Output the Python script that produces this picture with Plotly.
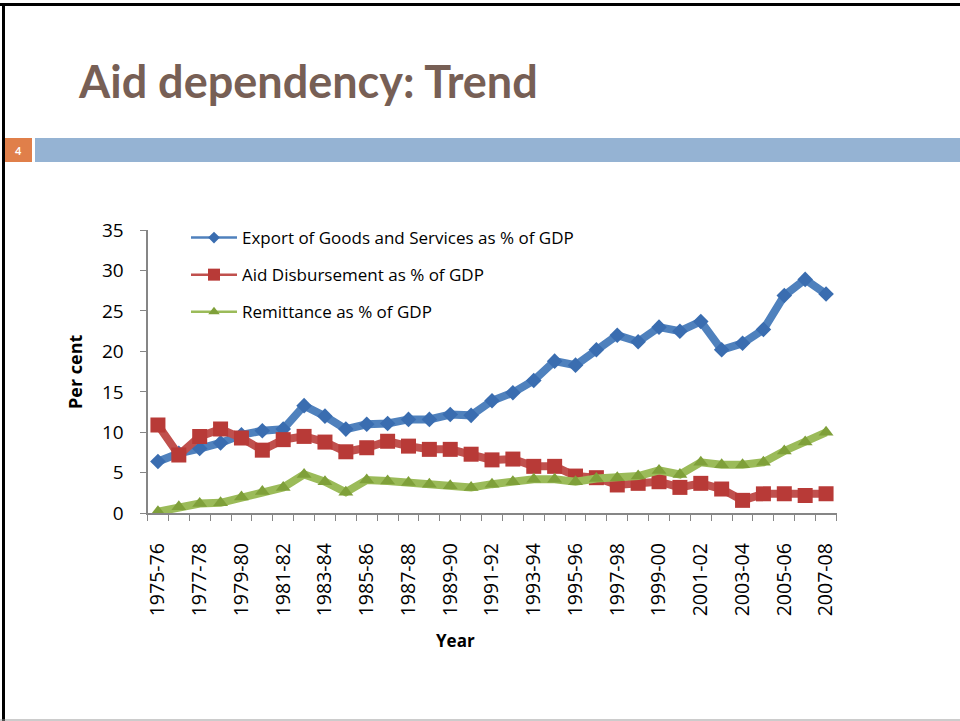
import plotly.graph_objects as go

W, H = 960, 721

years = [
    "1975-76", "1976-77", "1977-78", "1978-79", "1979-80", "1980-81", "1981-82",
    "1982-83", "1983-84", "1984-85", "1985-86", "1986-87", "1987-88", "1988-89",
    "1989-90", "1990-91", "1991-92", "1992-93", "1993-94", "1994-95", "1995-96",
    "1996-97", "1997-98", "1998-99", "1999-00", "2000-01", "2001-02", "2002-03",
    "2003-04", "2004-05", "2005-06", "2006-07", "2007-08",
]
export_pct = [
    6.4, 7.4, 8.0, 8.7, 9.7, 10.2, 10.4, 13.3, 12.0, 10.4, 11.0, 11.1, 11.6,
    11.6, 12.2, 12.1, 13.9, 14.9, 16.4, 18.8, 18.3, 20.2, 22.0, 21.2, 23.0,
    22.5, 23.7, 20.2, 21.0, 22.7, 26.9, 28.9, 27.1,
]
aid_pct = [
    10.9, 7.2, 9.5, 10.4, 9.3, 7.8, 9.1, 9.5, 8.8, 7.6, 8.1, 8.9, 8.3, 7.9,
    7.9, 7.3, 6.6, 6.7, 5.8, 5.8, 4.6, 4.4, 3.5, 3.7, 3.9, 3.2, 3.7, 3.0,
    1.6, 2.4, 2.4, 2.2, 2.4,
]
remit_pct = [
    0.2, 0.8, 1.2, 1.3, 2.0, 2.7, 3.2, 4.8, 3.9, 2.6, 4.1, 4.0, 3.8, 3.6,
    3.4, 3.2, 3.6, 3.9, 4.2, 4.2, 3.9, 4.3, 4.4, 4.6, 5.3, 4.8, 6.3, 6.0,
    6.0, 6.3, 7.7, 8.8, 10.0,
]
y_ticks = [0, 5, 10, 15, 20, 25, 30, 35]

FONT = "Open Sans"


def px(x):
    return x / W


def py(y):
    return 1 - y / H


series = [
    ("Export of Goods and Services as % of GDP", export_pct, "#4F81BD", "#3A6DB0", "diamond", 12),
    ("Aid Disbursement as % of GDP", aid_pct, "#C0504D", "#B83A37", "square", 15),
    ("Remittance as % of GDP", remit_pct, "#9BBB59", "#7FA03A", "triangle-up", 13),
]

fig = go.Figure()
for i, (name, vals, lc, mc, sym, ms) in enumerate(series):
    # thick line on the plot
    fig.add_trace(
        go.Scatter(
            x=years,
            y=vals,
            mode="lines+markers",
            line=dict(color=lc, width=8),
            marker=dict(symbol=sym, size=ms, color=mc),
            showlegend=False,
            name=name,
        )
    )
    # thin line for the legend entry
    fig.add_trace(
        go.Scatter(
            x=[None],
            y=[None],
            mode="lines+markers",
            line=dict(color=lc, width=2.5),
            marker=dict(symbol=sym, size=ms - 3, color=mc),
            name=name,
            legendgroup=str(i),
        )
    )

# every other year gets a label
tick_text = [y if i % 2 == 0 else "" for i, y in enumerate(years)]

fig.update_layout(
    width=W,
    height=H,
    margin=dict(l=0, r=0, t=0, b=0, autoexpand=False),
    paper_bgcolor="white",
    plot_bgcolor="white",
    font=dict(family=FONT, size=16, color="black"),
    xaxis=dict(
        domain=[px(147.5), px(836.5)],
        type="category",
        range=[-0.5, len(years) - 0.5],
        tickvals=years,
        ticktext=tick_text,
        tickangle=-90,
        tickson="boundaries",
        ticks="outside",
        ticklen=6,
        tickcolor="#868686",
        showline=True,
        linecolor="#868686",
        linewidth=2,
        showgrid=False,
        zeroline=False,
        automargin=False,
        ticklabelstandoff=20,
        tickfont=dict(size=19.5),
    ),
    yaxis=dict(
        domain=[py(513.3), py(230)],
        range=[0, 35],
        tickvals=y_ticks,
        ticks="outside",
        ticklen=6,
        tickcolor="#868686",
        showline=True,
        linecolor="#868686",
        linewidth=2,
        showgrid=False,
        zeroline=False,
        automargin=False,
        ticklabelstandoff=12,
        tickfont=dict(size=19),
    ),
    legend=dict(
        x=px(186),
        y=py(220),
        xanchor="left",
        yanchor="top",
        bgcolor="rgba(0,0,0,0)",
        font=dict(size=17),
        tracegroupgap=12,
        itemwidth=46,
    ),
    shapes=[
        # slide frame
        dict(type="line", xref="paper", yref="paper", x0=0, x1=1, y0=py(4.5), y1=py(4.5),
             line=dict(color="black", width=3)),
        dict(type="line", xref="paper", yref="paper", x0=px(3.5), x1=px(3.5), y0=py(4.5), y1=0,
             line=dict(color="black", width=3)),
        dict(type="line", xref="paper", yref="paper", x0=0, x1=1, y0=py(720), y1=py(720),
             line=dict(color="#999999", width=1)),
        # header bars
        dict(type="rect", xref="paper", yref="paper", x0=px(5), x1=px(32), y0=py(162), y1=py(138),
             fillcolor="#E07F4A", line=dict(width=0)),
        dict(type="rect", xref="paper", yref="paper", x0=px(35), x1=1, y0=py(162), y1=py(138),
             fillcolor="#95B3D3", line=dict(width=0)),
    ],
    annotations=[
        dict(text="<b>Aid dependency: Trend</b>", xref="paper", yref="paper",
             x=px(76), y=py(81), xanchor="left", yanchor="middle", showarrow=False,
             font=dict(family="Lato", size=45, color="#775F55")),
        dict(text="<b>4</b>", xref="paper", yref="paper",
             x=px(18), y=py(150), xanchor="center", yanchor="middle", showarrow=False,
             font=dict(family="Lato", size=11, color="white")),
        dict(text="<b>Per cent</b>", xref="paper", yref="paper",
             x=px(75), y=py(372), xanchor="center", yanchor="middle", showarrow=False,
             textangle=-90, font=dict(size=18)),
        dict(text="<b>Year</b>", xref="paper", yref="paper",
             x=px(455), y=py(640), xanchor="center", yanchor="middle", showarrow=False,
             font=dict(size=17)),
    ],
)

# drop the default page margin so the figure sits at the window corner
fig.write_html(
    "out.html",
    config={"displayModeBar": False},
    post_script="document.body.style.margin='0';document.body.style.overflow='hidden';",
)
